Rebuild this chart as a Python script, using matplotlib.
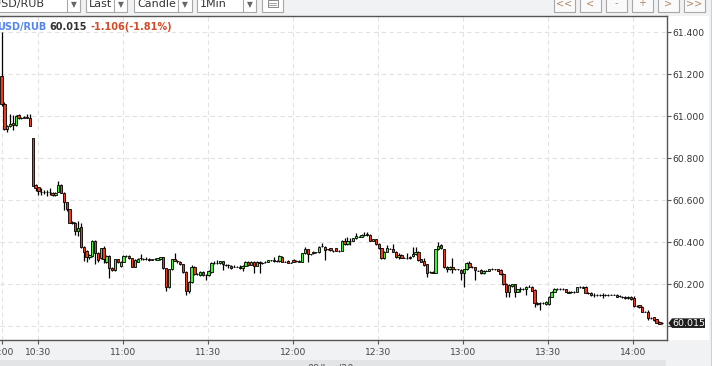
import matplotlib
matplotlib.use('Agg')
import matplotlib.pyplot as plt
from matplotlib.patches import Rectangle, Polygon
import numpy as np

# 1-minute candles USD/RUB, 10:00 .. 14:09 (bars without trades are skipped)
opens = [
    61.190, 61.060, 60.940, 60.955, 60.968, 60.958, 61.005, 60.990, 60.993, 60.995,
    60.990, 60.895, 60.673, 60.662, 60.641, 60.641, 60.640, 60.641, 60.636, 60.625,
    60.641, 60.673, 60.636, 60.590, 60.557, 60.493, 60.493, 60.455, 60.471, 60.376,
    60.359, 60.329, 60.335, 60.408, 60.348, 60.324, 60.371, 60.307, 60.335, 60.276,
    60.268, 60.319, 60.287, 60.307, 60.335, 60.335, 60.324, 60.284, 60.308, 60.324,
    60.319, 60.319, 60.320, 60.318, 60.319, 60.317, 60.319, 60.329, 60.276, 60.186,
    60.271, 60.319, 60.309, 60.307, 60.295, 60.260, 60.169, 60.212, 60.284, 60.249,
    60.244, 60.260, 60.244, 60.244, 60.260, 60.303, 60.303, 60.300, 60.309, 60.292,
    60.290, 60.287, 60.284, 60.284, 60.284, 60.276, 60.289, 60.308, 60.292, 60.308,
    60.289, 60.308, 60.303, 60.305, 60.307, 60.314, 60.318, 60.309, 60.309, 60.332,
    60.308, 60.312, 60.303, 60.318, 60.311, 60.307, 60.307, 60.347, 60.366, 60.342,
    60.347, 60.352, 60.354, 60.382, 60.379, 60.366, 60.371, 60.360, 60.371, 60.360,
    60.360, 60.408, 60.392, 60.408, 60.408, 60.419, 60.427, 60.427, 60.435, 60.435,
    60.435, 60.408, 60.414, 60.392, 60.371, 60.324, 60.355, 60.370, 60.370, 60.355,
    60.328, 60.339, 60.327, 60.327, 60.331, 60.335, 60.344, 60.355, 60.319, 60.312,
    60.296, 60.260, 60.260, 60.255, 60.366, 60.387, 60.366, 60.284, 60.271, 60.284,
    60.271, 60.271, 60.268, 60.252, 60.271, 60.303, 60.281, 60.281, 60.265, 60.268,
    60.252, 60.265, 60.265, 60.271, 60.271, 60.271, 60.268, 60.249, 60.201, 60.165,
    60.192, 60.200, 60.165, 60.176, 60.179, 60.179, 60.189, 60.189, 60.173, 60.113,
    60.110, 60.113, 60.106, 60.106, 60.141, 60.165, 60.176, 60.176, 60.176, 60.176,
    60.160, 60.164, 60.164, 60.164, 60.186, 60.183, 60.186, 60.160, 60.160, 60.149,
    60.148, 60.148, 60.148, 60.148, 60.148, 60.151, 60.151, 60.151, 60.144, 60.141,
    60.141, 60.133, 60.141, 60.133, 60.097, 60.100, 60.094, 60.070, 60.070, 60.038,
    60.043, 60.033, 60.022, 60.015,
]
highs = [
    61.400, 61.070, 60.960, 61.010, 61.005, 61.005, 61.010, 60.998, 61.000, 61.010,
    61.010, 60.897, 60.676, 60.664, 60.660, 60.650, 60.648, 60.660, 60.640, 60.640,
    60.692, 60.676, 60.640, 60.592, 60.560, 60.500, 60.496, 60.503, 60.490, 60.380,
    60.362, 60.345, 60.412, 60.410, 60.352, 60.375, 60.380, 60.340, 60.338, 60.280,
    60.322, 60.322, 60.310, 60.340, 60.340, 60.338, 60.327, 60.320, 60.324, 60.345,
    60.324, 60.330, 60.324, 60.322, 60.326, 60.326, 60.332, 60.332, 60.279, 60.274,
    60.322, 60.350, 60.314, 60.310, 60.298, 60.263, 60.215, 60.290, 60.287, 60.255,
    60.262, 60.264, 60.250, 60.268, 60.306, 60.310, 60.318, 60.312, 60.312, 60.298,
    60.295, 60.292, 60.290, 60.288, 60.290, 60.292, 60.312, 60.312, 60.312, 60.312,
    60.310, 60.312, 60.308, 60.310, 60.318, 60.318, 60.331, 60.314, 60.338, 60.336,
    60.312, 60.316, 60.308, 60.322, 60.316, 60.314, 60.350, 60.379, 60.369, 60.346,
    60.357, 60.356, 60.382, 60.395, 60.382, 60.370, 60.374, 60.364, 60.375, 60.364,
    60.411, 60.420, 60.424, 60.419, 60.422, 60.443, 60.432, 60.438, 60.450, 60.450,
    60.438, 60.416, 60.417, 60.398, 60.374, 60.358, 60.387, 60.374, 60.392, 60.358,
    60.350, 60.342, 60.331, 60.347, 60.334, 60.376, 60.379, 60.358, 60.322, 60.324,
    60.299, 60.264, 60.264, 60.369, 60.403, 60.392, 60.369, 60.287, 60.287, 60.323,
    60.275, 60.275, 60.271, 60.274, 60.306, 60.310, 60.285, 60.284, 60.269, 60.271,
    60.268, 60.269, 60.274, 60.276, 60.275, 60.274, 60.271, 60.252, 60.204, 60.200,
    60.203, 60.203, 60.179, 60.186, 60.183, 60.192, 60.197, 60.192, 60.176, 60.116,
    60.114, 60.117, 60.120, 60.144, 60.168, 60.181, 60.181, 60.180, 60.180, 60.179,
    60.168, 60.168, 60.168, 60.189, 60.190, 60.192, 60.190, 60.164, 60.163, 60.157,
    60.152, 60.152, 60.157, 60.152, 60.154, 60.155, 60.155, 60.154, 60.148, 60.145,
    60.144, 60.144, 60.144, 60.145, 60.101, 60.103, 60.097, 60.074, 60.078, 60.042,
    60.046, 60.036, 60.025, 60.019,
]
lows = [
    61.050, 60.935, 60.925, 60.950, 60.935, 60.955, 60.988, 60.985, 60.990, 60.990,
    60.952, 60.668, 60.646, 60.625, 60.625, 60.630, 60.620, 60.625, 60.622, 60.620,
    60.638, 60.634, 60.554, 60.550, 60.490, 60.485, 60.435, 60.430, 60.372, 60.312,
    60.307, 60.320, 60.330, 60.297, 60.305, 60.320, 60.300, 60.300, 60.229, 60.262,
    60.264, 60.300, 60.283, 60.305, 60.330, 60.320, 60.280, 60.280, 60.305, 60.318,
    60.314, 60.315, 60.312, 60.314, 60.315, 60.314, 60.316, 60.272, 60.170, 60.183,
    60.268, 60.309, 60.303, 60.290, 60.256, 60.149, 60.157, 60.208, 60.245, 60.244,
    60.240, 60.240, 60.220, 60.240, 60.256, 60.298, 60.298, 60.296, 60.268, 60.286,
    60.276, 60.275, 60.280, 60.280, 60.272, 60.265, 60.286, 60.288, 60.290, 60.255,
    60.286, 60.252, 60.298, 60.300, 60.304, 60.310, 60.306, 60.305, 60.306, 60.305,
    60.304, 60.300, 60.300, 60.304, 60.306, 60.304, 60.305, 60.344, 60.307, 60.338,
    60.344, 60.348, 60.351, 60.378, 60.315, 60.362, 60.360, 60.356, 60.357, 60.356,
    60.357, 60.387, 60.389, 60.387, 60.405, 60.416, 60.423, 60.424, 60.432, 60.432,
    60.405, 60.404, 60.389, 60.366, 60.321, 60.321, 60.352, 60.366, 60.352, 60.325,
    60.320, 60.324, 60.323, 60.319, 60.320, 60.332, 60.341, 60.313, 60.305, 60.289,
    60.233, 60.255, 60.252, 60.252, 60.363, 60.368, 60.278, 60.260, 60.268, 60.252,
    60.267, 60.266, 60.220, 60.188, 60.268, 60.278, 60.277, 60.220, 60.261, 60.249,
    60.249, 60.261, 60.262, 60.267, 60.267, 60.262, 60.246, 60.198, 60.141, 60.141,
    60.189, 60.141, 60.162, 60.165, 60.175, 60.149, 60.185, 60.167, 60.094, 60.103,
    60.078, 60.108, 60.103, 60.103, 60.138, 60.162, 60.172, 60.172, 60.172, 60.162,
    60.157, 60.160, 60.160, 60.161, 60.182, 60.180, 60.157, 60.156, 60.146, 60.138,
    60.144, 60.144, 60.133, 60.144, 60.145, 60.147, 60.147, 60.138, 60.140, 60.137,
    60.130, 60.130, 60.126, 60.094, 60.093, 60.087, 60.067, 60.066, 60.030, 60.034,
    60.027, 60.015, 60.010, 60.011,
]
closes = [
    61.060, 60.940, 60.955, 60.963, 60.958, 61.000, 60.990, 60.993, 60.995, 60.993,
    60.955, 60.670, 60.657, 60.646, 60.641, 60.640, 60.641, 60.638, 60.625, 60.636,
    60.673, 60.636, 60.590, 60.557, 60.493, 60.495, 60.455, 60.470, 60.376, 60.356,
    60.329, 60.340, 60.408, 60.348, 60.317, 60.371, 60.319, 60.335, 60.276, 60.270,
    60.319, 60.307, 60.307, 60.335, 60.336, 60.324, 60.284, 60.316, 60.320, 60.324,
    60.319, 60.320, 60.318, 60.319, 60.319, 60.324, 60.328, 60.276, 60.189, 60.271,
    60.319, 60.313, 60.309, 60.295, 60.260, 60.169, 60.212, 60.284, 60.249, 60.249,
    60.260, 60.245, 60.244, 60.265, 60.303, 60.303, 60.303, 60.309, 60.295, 60.292,
    60.290, 60.279, 60.284, 60.284, 60.276, 60.289, 60.308, 60.292, 60.308, 60.289,
    60.308, 60.300, 60.303, 60.307, 60.315, 60.314, 60.309, 60.309, 60.335, 60.308,
    60.308, 60.303, 60.303, 60.307, 60.311, 60.311, 60.347, 60.366, 60.342, 60.342,
    60.354, 60.352, 60.379, 60.382, 60.363, 60.366, 60.363, 60.360, 60.360, 60.360,
    60.408, 60.392, 60.408, 60.408, 60.419, 60.430, 60.427, 60.435, 60.435, 60.440,
    60.408, 60.414, 60.392, 60.371, 60.324, 60.355, 60.371, 60.370, 60.355, 60.328,
    60.339, 60.327, 60.327, 60.327, 60.323, 60.344, 60.355, 60.316, 60.308, 60.292,
    60.255, 60.260, 60.255, 60.366, 60.382, 60.371, 60.281, 60.271, 60.284, 60.271,
    60.271, 60.271, 60.255, 60.271, 60.303, 60.281, 60.281, 60.268, 60.265, 60.252,
    60.265, 60.265, 60.271, 60.271, 60.271, 60.265, 60.249, 60.201, 60.165, 60.197,
    60.200, 60.165, 60.176, 60.176, 60.179, 60.189, 60.189, 60.170, 60.110, 60.106,
    60.110, 60.113, 60.117, 60.141, 60.165, 60.176, 60.176, 60.176, 60.176, 60.165,
    60.165, 60.164, 60.164, 60.186, 60.186, 60.189, 60.160, 60.160, 60.149, 60.149,
    60.148, 60.148, 60.148, 60.148, 60.151, 60.151, 60.151, 60.141, 60.144, 60.141,
    60.133, 60.141, 60.129, 60.097, 60.097, 60.090, 60.070, 60.070, 60.038, 60.038,
    60.030, 60.018, 60.013, 60.015,
]

time_labels = ['10:00', '10:30', '11:00', '11:30', '12:00', '12:30', '13:00', '13:30', '14:00']
time_ticks = [0, 12.7, 42.7, 72.7, 102.7, 132.7, 162.7, 192.7, 222.7]   # bar index of each label
price_ticks = [60.0, 60.2, 60.4, 60.6, 60.8, 61.0, 61.2, 61.4]

symbol = 'USD/RUB'
change_text = '-1.106(-1.81%)'

UP = '#44ee33'
DOWN = '#ee3a1f'

W, H = 712, 366
fig = plt.figure(figsize=(W / 100, H / 100), dpi=100)
fig.patch.set_facecolor('#f1f2f4')

# background pieces (pixel coords, y going down)
bg = fig.add_axes([0, 0, 1, 1], zorder=0)
bg.set_xlim(0, W)
bg.set_ylim(H, 0)
bg.axis('off')
bg.add_patch(Rectangle((667, 15.7), 42, 324.6, fc='white', ec='none'))
bg.add_patch(Rectangle((0, 360), 666, 8, fc='#e3e4e6', ec='none'))
bg.plot([710.5, 710.5], [0, H], color='#cfd0d2', lw=0.8)
bg.text(331, 369, '09/Jun/20', ha='center', va='center', fontsize=7, color='#555555')

# main chart
ax = fig.add_axes([0, 1 - 340.3 / H, 667 / W, (340.3 - 15.7) / H], zorder=1)
ax.set_facecolor('white')

x = np.arange(len(closes))
o = np.array(opens)
c = np.array(closes)
colors = [UP if cc > oo else DOWN for oo, cc in zip(o, c)]

ax.vlines(x, lows, highs, color='black', lw=0.9, zorder=2)
ax.bar(x, np.abs(c - o), bottom=np.minimum(o, c), width=0.82,
       color=colors, edgecolor='black', linewidth=0.6, zorder=3)

ax.set_xlim(-0.56, 234.7)
ax.set_ylim(59.9333, 61.479)

ax.set_xticks(time_ticks)
ax.set_xticklabels(time_labels)
ax.set_yticks(price_ticks)
ax.set_yticklabels(['' if p == 60.0 else f'{p:.3f}' for p in price_ticks])
ax.yaxis.tick_right()

ax.tick_params(axis='x', direction='out', length=3, width=0.8, color='#555555',
               pad=2.5, labelsize=6.6, labelcolor='#444444')
ax.tick_params(axis='y', direction='out', length=3, width=0.8, color='#555555',
               pad=1, labelsize=6.6, labelcolor='#333333')

ax.grid(True, color='#e2e2e2', linestyle=(0, (4, 3)), lw=0.8)
ax.set_axisbelow(True)

ax.spines['left'].set_visible(False)
for s in ['top', 'right', 'bottom']:
    ax.spines[s].set_color('#555555')
    ax.spines[s].set_linewidth(1)

# overlay: toolbar, header text, last price marker
ov = fig.add_axes([0, 0, 1, 1], zorder=3)
ov.set_xlim(0, W)
ov.set_ylim(H, 0)
ov.axis('off')

dropdowns = [(-20, 80, 67, symbol), (86, 127, 114, 'Last'),
             (134, 192, 178, 'Candle'), (197, 256, 243, '1Min')]
for x0, x1, xd, label in dropdowns:
    ov.add_patch(Rectangle((x0, -3), x1 - x0, 14.7, fc='white', ec='#a8a8a8', lw=0.8))
    ov.plot([xd, xd], [-3, 11.7], color='#a8a8a8', lw=0.8)
    if x0 < 0:
        ov.text(44, 7, label, ha='right', va='baseline', fontsize=8, color='#333333')
    else:
        ov.text(x0 + 3, 7, label, ha='left', va='baseline', fontsize=8, color='#333333')
    ov.text((xd + x1) / 2, 4.5, '▼', ha='center', va='center', fontsize=5.5, color='#666666')

ov.add_patch(Rectangle((262, -3), 21, 14.7, fc='white', ec='#a8a8a8', lw=0.8))
ov.add_patch(Rectangle((267.5, 0), 10, 7, fc='none', ec='#777777', lw=0.6))
for yy in [2.5, 4.5]:
    ov.plot([269, 276], [yy, yy], color='#777777', lw=0.5)

for k, lab in enumerate(['<<', '<', '-', '+', '>', '>>']):
    bx = 554 + k * 26
    ov.add_patch(Rectangle((bx, -3), 21, 14.7, fc='#fafafa', ec='#a8a8a8', lw=0.8))
    ov.text(bx + 10.5, 3, lab, ha='center', va='center', fontsize=7, color='#b08a6a')

# header inside the chart
ov.text(46, 27.3, symbol, ha='right', va='center', fontsize=7, fontweight='bold', color='#5585ee')
ov.text(49.3, 27.3, f'{closes[-1]:.3f}', ha='left', va='center', fontsize=7,
        fontweight='bold', color='#333333')
ov.text(90.7, 27.3, change_text, ha='left', va='center', fontsize=7,
        fontweight='bold', color='#d54b28')

# last price marker on the price axis
px, py = ax.transData.transform((x[-1], closes[-1]))
yc = H - py
xr = ax.get_position().x1 * W
ov.add_patch(Polygon([(xr + 1.5, yc), (xr + 5, yc - 4.8), (xr + 38, yc - 4.8),
                      (xr + 38, yc + 4.8), (xr + 5, yc + 4.8)],
                     closed=True, fc='#1e1e1e', ec='none'))
ov.text(xr + 21.5, yc, f'{closes[-1]:.3f}', ha='center', va='center',
        fontsize=6.8, color='white')

fig.savefig('out.png', dpi=100)
